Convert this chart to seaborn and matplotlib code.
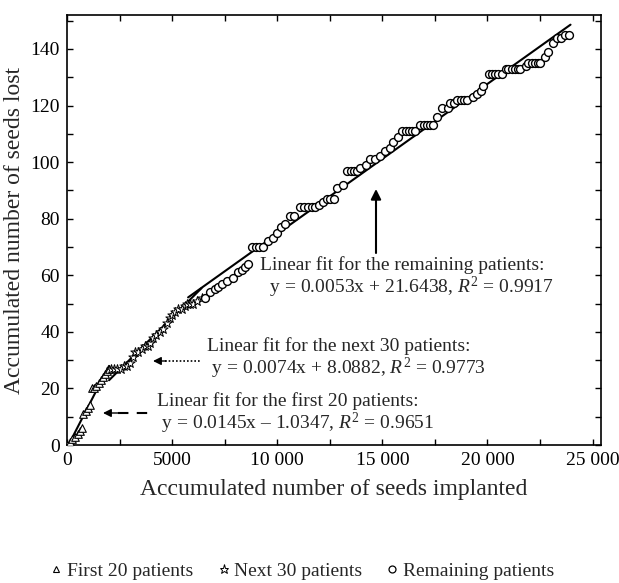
import numpy as np
import pandas as pd
import seaborn as sns
import matplotlib.pyplot as plt
from matplotlib.ticker import MultipleLocator, FuncFormatter
from matplotlib.lines import Line2D

# First 20 patients (triangles)
x_first = [0, 120, 250, 380, 500, 620, 700, 780, 880, 980,
           1100, 1200, 1300, 1400, 1500, 1600, 1700, 1800, 1900, 2000]
y_first = [0, 1, 2, 3, 4, 5, 6, 11, 12, 13,
           14, 20, 20, 21, 22, 23, 24, 25, 26, 27]

# Next 30 patients (stars)
x_next = [2100, 2250, 2400, 2550, 2700, 2850, 3000, 3120, 3240, 3400,
          3550, 3700, 3850, 3950, 4100, 4250, 4400, 4570, 4760, 4900,
          5000, 5150, 5300, 5480, 5600, 5710, 5850, 6000, 6190, 6430]
y_next = [27, 27, 27, 27, 28, 28, 29, 31, 33, 33,
          34, 35, 35, 36, 38, 39, 40, 41, 43, 45,
          46, 47, 48, 48, 49, 50, 50, 50, 51, 52]

# Remaining patients (circles)
x_rem = [6570, 6810, 7050, 7190, 7380, 7620, 7900, 8140, 8330, 8480, 8620,
         8810, 8980, 9150, 9330, 9570, 9810, 10000, 10200, 10380, 10620, 10800,
         11100, 11280, 11460, 11640, 11820, 12000, 12180, 12360, 12520, 12700, 12860, 13140,
         13330, 13490, 13650, 13810, 13950, 14200, 14430, 14650, 14900, 15140, 15380, 15520, 15760, 15950,
         16140, 16280, 16420, 16570, 16810, 16960, 17110, 17260, 17400, 17620, 17860, 18100, 18240,
         18400, 18570, 18730, 18890, 19050, 19290, 19500, 19670, 19810,
         20050, 20200, 20360, 20520, 20670, 20860, 21000, 21150, 21290, 21430, 21570, 21810,
         21950, 22100, 22240, 22380, 22520, 22760, 22900, 23140, 23330, 23500, 23700, 23860]
y_rem = [52, 54, 55, 56, 57, 58, 59, 61, 62, 63, 64,
         70, 70, 70, 70, 72, 73, 75, 77, 78, 81, 81,
         84, 84, 84, 84, 84, 85, 86, 87, 87, 87, 91, 92,
         97, 97, 97, 97, 98, 99, 101, 101, 102, 104, 105, 107, 109, 111,
         111, 111, 111, 111, 113, 113, 113, 113, 113, 116, 119, 119, 121,
         121, 122, 122, 122, 122, 123, 124, 125, 127,
         131, 131, 131, 131, 131, 133, 133, 133, 133, 133, 133, 134,
         135, 135, 135, 135, 135, 137, 139, 142, 144, 144, 145, 145]

# Linear fits: slope, intercept, x-range
fit_first = (0.0145, -1.0347, 300, 2000)
fit_next = (0.0074, 8.0882, 2000, 6400)
fit_rem = (0.0053, 21.6438, 5760, 23950)

sns.set_style("ticks")
plt.rcParams['font.family'] = ['Liberation Serif', 'DejaVu Serif']
plt.rcParams['mathtext.fontset'] = 'custom'
plt.rcParams['mathtext.rm'] = 'Liberation Serif'
plt.rcParams['mathtext.it'] = 'Liberation Serif:italic'

W, H = 619, 583
fig = plt.figure(figsize=(W / 100, H / 100), dpi=100)
ax = fig.add_axes([67 / W, 1 - 445 / H, (601 - 67) / W, (445 - 15) / H])

# fit lines
for m, b, x0, x1 in (fit_first, fit_next, fit_rem):
    xs = np.array([x0, x1])
    ax.plot(xs, m * xs + b, color='black', lw=1.5, zorder=2)

df_first = pd.DataFrame({'x': x_first, 'y': y_first})
df_next = pd.DataFrame({'x': x_next, 'y': y_next})
df_rem = pd.DataFrame({'x': x_rem, 'y': y_rem})

sns.scatterplot(data=df_first, x='x', y='y', marker='^', s=30, color='white',
                edgecolor='black', linewidth=0.8, ax=ax, zorder=3)
sns.scatterplot(data=df_next, x='x', y='y', marker='*', s=50, color='white',
                edgecolor='black', linewidth=0.7, ax=ax, zorder=3)
sns.scatterplot(data=df_rem, x='x', y='y', marker='o', s=32, color='white',
                edgecolor='black', linewidth=1.0, ax=ax, zorder=3)

ax.set_xlim(0, 25400)
ax.set_ylim(0, 152)
ax.xaxis.set_major_locator(MultipleLocator(5000))
ax.xaxis.set_minor_locator(MultipleLocator(2500))
ax.yaxis.set_major_locator(MultipleLocator(20))
ax.yaxis.set_minor_locator(MultipleLocator(10))


def thousands(v, pos):
    v = int(round(v))
    return f"{v:,}".replace(",", " ") if v >= 10000 else str(v)


ax.xaxis.set_major_formatter(FuncFormatter(thousands))
ax.tick_params(which='both', direction='in', top=True, right=True,
               length=4, width=1, labelsize=14, colors='black', pad=5)
for sp in ax.spines.values():
    sp.set_linewidth(1.2)
    sp.set_color('black')

ax.set_xlabel('Accumulated number of seeds implanted', fontsize=17, labelpad=7)
ax.set_ylabel('Accumulated number of seeds lost', fontsize=17, labelpad=4)


def px(x, y):
    return (x / W, 1 - y / H)


ann = dict(fontsize=14, ha='left', va='center', multialignment='left',
           linespacing=1.0)

# annotation: remaining patients
ax.annotate('', xy=px(376, 189), xytext=px(376, 253), xycoords='figure fraction',
            textcoords='figure fraction',
            arrowprops=dict(arrowstyle='-|>', color='black', lw=1.5,
                            mutation_scale=15, shrinkA=0, shrinkB=0))
fig.text(*px(260, 278),
         'Linear fit for the remaining patients:\n'
         '  y = 0.0053x + 21.6438, $R^2$ = 0.9917', **ann)

# annotation: next 30 patients (dotted arrow)
fig.add_artist(Line2D([165 / W, 200 / W], [1 - 361 / H, 1 - 361 / H],
                      color='black', lw=1.2, ls=(0, (1, 1.2))))
ax.annotate('', xy=px(153, 361), xytext=px(166, 361), xycoords='figure fraction',
            textcoords='figure fraction',
            arrowprops=dict(arrowstyle='-|>', color='black', lw=1,
                            mutation_scale=12, shrinkA=0, shrinkB=0))
fig.text(*px(207, 359),
         'Linear fit for the next 30 patients:\n'
         ' y = 0.0074x + 8.0882, $R^2$ = 0.9773', **ann)

# annotation: first 20 patients (dashed arrow)
fig.add_artist(Line2D([118 / W, 150 / W], [1 - 413 / H, 1 - 413 / H],
                      color='black', lw=1.5, ls=(0, (5, 4))))
ax.annotate('', xy=px(103, 413), xytext=px(118, 413), xycoords='figure fraction',
            textcoords='figure fraction',
            arrowprops=dict(arrowstyle='-|>', color='black', lw=1,
                            mutation_scale=12, shrinkA=0, shrinkB=0))
fig.text(*px(157, 414),
         'Linear fit for the first 20 patients:\n'
         ' y = 0.0145x \u2013 1.0347, $R^2$ = 0.9651', **ann)

handles = [
    Line2D([], [], marker='^', ls='', mfc='white', mec='black', ms=5, mew=0.8),
    Line2D([], [], marker='*', ls='', mfc='white', mec='black', ms=6.5, mew=0.7),
    Line2D([], [], marker='o', ls='', mfc='white', mec='black', ms=5, mew=0.9),
]
fig.legend(handles, ['First 20 patients', 'Next 30 patients', 'Remaining patients'],
           loc='center', bbox_to_anchor=(303 / W, 1 - 571 / H), ncol=3,
           frameon=False, fontsize=14, handlelength=0.5, handletextpad=0.3,
           columnspacing=1.3)

plt.savefig('out.png', dpi=100)
